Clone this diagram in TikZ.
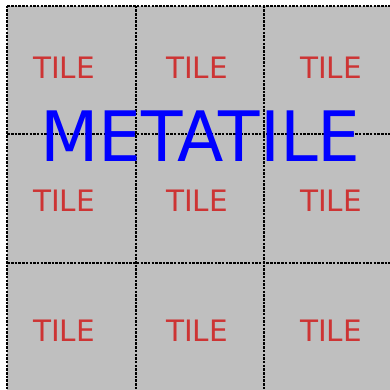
\documentclass[tikz,border=0pt]{standalone}
\usepackage{fontspec}
\setmainfont{DejaVu Sans}
\usetikzlibrary{positioning}

\definecolor{tilegray}{RGB}{191,191,191}
\definecolor{tilered}{RGB}{205,52,52}

\begin{document}
\begin{tikzpicture}[
    x=1pt, y=-1pt,
    gridline/.style={draw=black, line width=2pt, dash pattern=on 2.5pt off 1.2pt},
    tilelbl/.style={text=tilered, inner sep=0pt, font=\fontsize{29.5}{30}\selectfont},
    metalbl/.style={text=blue, inner sep=0pt, font=\fontsize{69.5}{70}\selectfont}
  ]
    \useasboundingbox (0,0) rectangle (390,390);
    \clip (0,0) rectangle (390,390);
    \fill[tilegray] (7.3,5.7) rectangle (400,400);
    \foreach \x in {7.3,135.7,264.3}
      \draw[gridline] (\x,5.7) -- (\x,400);
    \foreach \y in {5.7,134,262.7}
      \draw[gridline] (7.3,\y) -- (400,\y);
    \foreach \y [count=\r] in {67.5,201,331}
      \foreach \x [count=\c] in {64,197,331}
        \node[tilelbl] (tile-\r-\c) at (\x,\y) {TILE};
    \node[metalbl] (meta) at (200.3,136.3) {\scalebox{0.975}[1]{METATILE}};
  \end{tikzpicture}
\end{document}
